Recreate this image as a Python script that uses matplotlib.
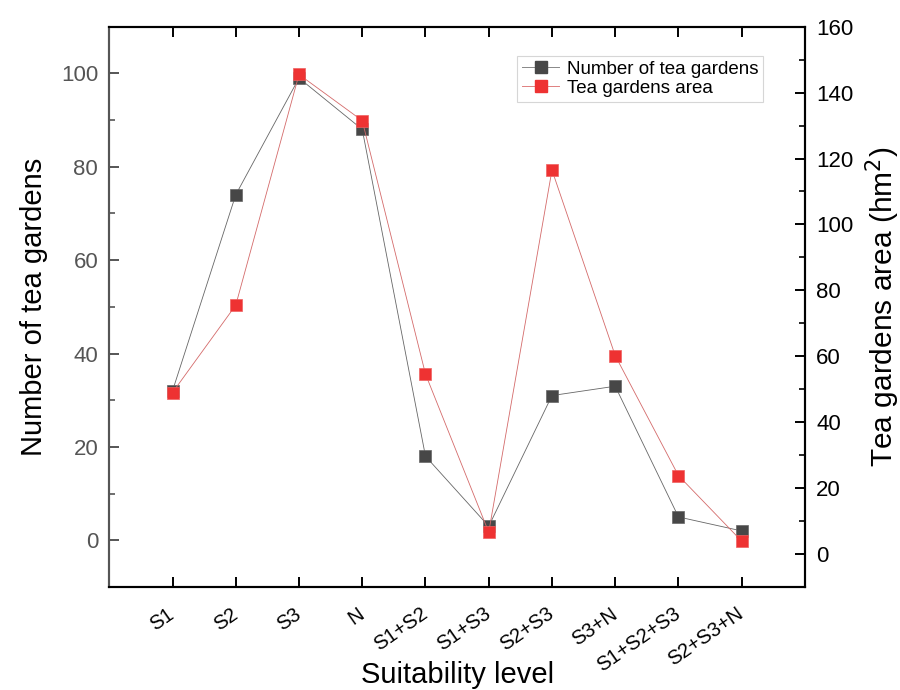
import numpy as np
import matplotlib
matplotlib.use('Agg')
import matplotlib.pyplot as plt
from matplotlib.ticker import MultipleLocator
from matplotlib.lines import Line2D

plt.rcParams['font.family'] = ['Liberation Sans', 'DejaVu Sans']

# suitability level categories
levels = ['S1', 'S2', 'S3', 'N', 'S1+S2', 'S1+S3', 'S2+S3', 'S3+N', 'S1+S2+S3', 'S2+S3+N']
# number of tea gardens (left axis)
num_gardens = [32, 74, 99, 88, 18, 3, 31, 33, 5, 2]
# tea gardens area in hm2 (right axis)
garden_area = [49, 75.5, 145.5, 131.5, 54.6, 6.6, 116.5, 60.2, 23.8, 3.9]

x = np.arange(len(levels))

fig = plt.figure(figsize=(9, 6.9), dpi=100)
ax1 = fig.add_axes([0.1214, 0.1493, 0.773, 0.812])
ax2 = ax1.twinx()

black = '#474747'
red = '#ee3232'

ax1.plot(x, num_gardens, color='#666666', lw=0.6, zorder=2)
ax1.plot(x, num_gardens, ls='none', marker='s', ms=8.5, mfc=black, mec='#666666', mew=0.5, zorder=3)
ax2.plot(x, garden_area, color='#d46a6a', lw=0.6, zorder=2)
ax2.plot(x, garden_area, ls='none', marker='s', ms=8.5, mfc=red, mec='#f06060', mew=0.5, zorder=3)

ax1.set_xlim(-1, 10)
ax1.set_ylim(-10, 110)
ax2.set_ylim(-10, 160)

ax1.set_xticks(x)
ax1.set_xticklabels(levels, rotation=35, ha='right', va='center', rotation_mode='anchor', fontsize=14.5)
ax1.yaxis.set_major_locator(MultipleLocator(20))
ax1.yaxis.set_minor_locator(MultipleLocator(10))
ax2.yaxis.set_major_locator(MultipleLocator(20))
ax2.yaxis.set_minor_locator(MultipleLocator(10))

# ticks pointing inside, Origin style
ax1.tick_params(axis='x', which='major', direction='in', top=True, length=7, width=1.4, pad=18)
ax1.tick_params(axis='y', which='major', direction='in', length=7, width=1.4, labelsize=16,
                colors='#555555', labelcolor='#555555', pad=8)
ax1.tick_params(axis='y', which='minor', direction='in', length=4, width=1.2, colors='#555555')
ax2.tick_params(axis='y', which='major', direction='in', length=7, width=1.4, labelsize=16, pad=8)
ax2.tick_params(axis='y', which='minor', direction='in', length=4, width=1.2)

for ax in (ax1, ax2):
    for sp in ax.spines.values():
        sp.set_linewidth(1.5)
ax1.spines['left'].set_color('#555555')
ax2.spines['left'].set_color('#555555')

ax1.set_xlabel('Suitability level', fontsize=21)
ax1.xaxis.set_label_coords(0.5, -0.132)
ax1.set_ylabel('Number of tea gardens', fontsize=21, labelpad=9)
ax2.set_ylabel('Tea gardens area (hm$^2$)', fontsize=21.5, labelpad=7)

handles = [
    Line2D([], [], color='#888888', lw=0.7, marker='s', ms=8.5, mfc=black, mec=black),
    Line2D([], [], color='#e08080', lw=0.7, marker='s', ms=8.5, mfc=red, mec=red),
]
leg = ax2.legend(handles, ['Number of tea gardens', 'Tea gardens area'], loc='upper right',
                 bbox_to_anchor=(0.9396, 0.9477), borderaxespad=0, fontsize=13.5,
                 frameon=True, fancybox=False, handlelength=2.0, handletextpad=0.4,
                 labelspacing=0.1, borderpad=0.25)
leg.get_frame().set_edgecolor('#cccccc')
leg.get_frame().set_linewidth(0.8)

plt.savefig('out.png', dpi=100)
